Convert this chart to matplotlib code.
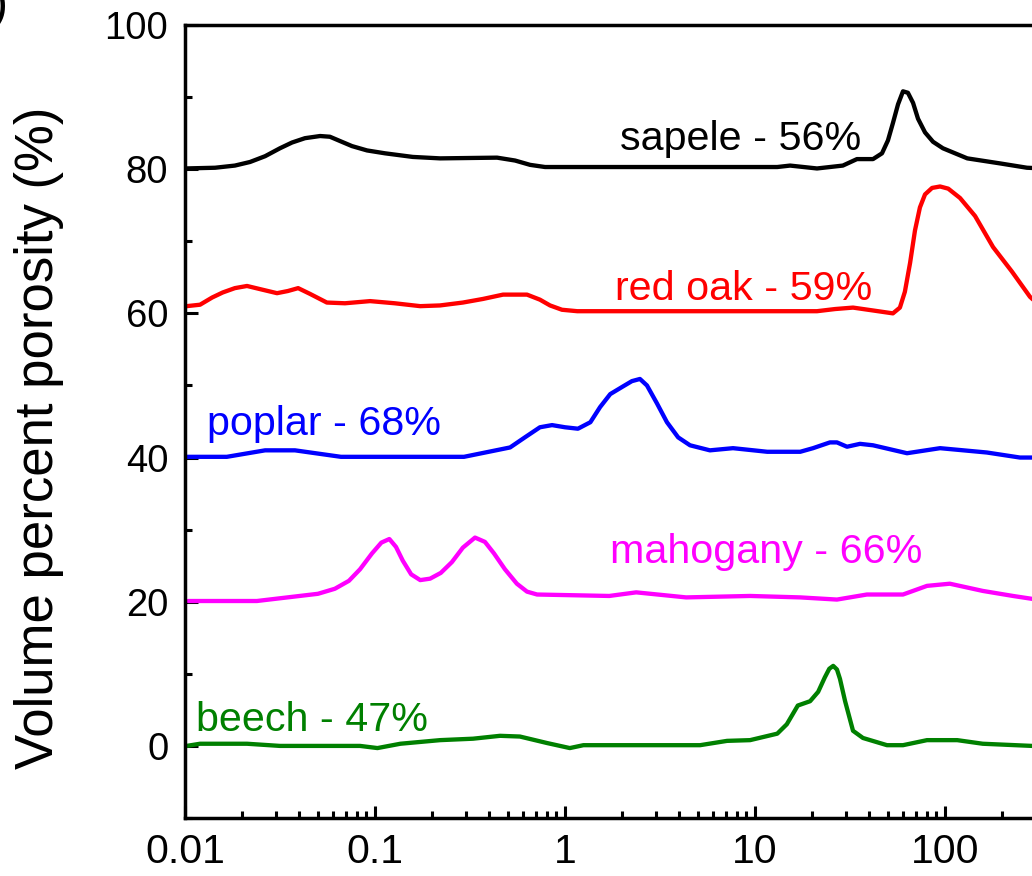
import numpy as np
import matplotlib
matplotlib.use("Agg")
import matplotlib.pyplot as plt
from matplotlib.ticker import LogLocator, FixedLocator, NullFormatter

plt.rcParams["font.family"] = ["Liberation Sans", "DejaVu Sans"]

# pore diameter (um) and volume percent, each curve stacked by its offset
sapele_x = [0.01, 0.0144, 0.0183, 0.0220, 0.0264, 0.0316, 0.0366, 0.0428, 0.0514, 0.0579,
            0.0655, 0.0757, 0.0908, 0.113, 0.158, 0.220, 0.439, 0.546, 0.655, 0.785,
            1.73, 13.1, 15.3, 21.2, 29.0, 34.4, 41.8, 46.6, 50.1, 53.2, 56.6, 60.1,
            63.8, 67.9, 72.1, 78.5, 86.5, 97.5, 131, 195, 270, 400]
sapele_y = [0.1, 0.2, 0.5, 1.0, 1.8, 2.9, 3.7, 4.3, 4.6, 4.5,
            3.9, 3.2, 2.6, 2.2, 1.7, 1.5, 1.6, 1.2, 0.6, 0.3,
            0.3, 0.3, 0.5, 0.1, 0.5, 1.4, 1.4, 2.2, 4.0, 6.4, 9.0, 10.8,
            10.6, 9.2, 7.0, 5.1, 3.8, 2.9, 1.5, 0.8, 0.2, 0.0]

redoak_x = [0.0102, 0.012, 0.0139, 0.0158, 0.0183, 0.0212, 0.0254, 0.0305, 0.0348, 0.0394,
            0.0455, 0.0558, 0.0695, 0.0942, 0.127, 0.173, 0.220, 0.290, 0.370, 0.472,
            0.631, 0.738, 0.834, 0.964, 1.16, 21.2, 26.4, 32.8, 41.8, 53.2, 57.9, 61.5,
            65.5, 69.5, 73.8, 78.5, 85.5, 94.2, 104, 120, 144, 179, 225, 280, 403]
redoak_y = [1.0, 1.2, 2.2, 2.9, 3.5, 3.8, 3.3, 2.8, 3.1, 3.5,
            2.7, 1.5, 1.4, 1.7, 1.4, 1.0, 1.1, 1.5, 2.0, 2.6,
            2.6, 1.9, 1.1, 0.5, 0.3, 0.3, 0.6, 0.8, 0.4, 0.0, 0.8, 3.0,
            7.0, 11.5, 14.7, 16.5, 17.4, 17.6, 17.3, 16.0, 13.5, 9.2, 5.8, 2.3, -1.5]

poplar_x = [0.01, 0.0166, 0.0264, 0.0379, 0.0662, 0.294, 0.514, 0.615, 0.738, 0.855,
            1.0, 1.17, 1.36, 1.53, 1.73, 2.0, 2.25, 2.48, 2.70, 3.05, 3.44, 3.94,
            4.55, 5.79, 7.66, 11.6, 17.3, 20.2, 24.8, 27.0, 30.5, 35.7, 41.8, 63.1,
            94.2, 166, 248, 316]
poplar_y = [0.1, 0.1, 1.0, 1.0, 0.1, 0.1, 1.4, 2.8, 4.2, 4.5,
            4.2, 4.0, 4.9, 7.0, 8.8, 9.8, 10.6, 10.9, 10.0, 7.5, 4.9, 2.8,
            1.7, 1.0, 1.3, 0.8, 0.8, 1.3, 2.1, 2.1, 1.5, 1.9, 1.7, 0.6,
            1.3, 0.7, 0.0, 0.0]

mahogany_x = [0.0104, 0.0239, 0.0501, 0.0615, 0.0729, 0.0834, 0.0964, 0.108, 0.119, 0.129,
              0.140, 0.155, 0.173, 0.195, 0.222, 0.254, 0.290, 0.336, 0.379, 0.423,
              0.483, 0.558, 0.631, 0.713, 1.71, 2.37, 4.34, 9.42, 17.3, 27.0, 38.8,
              60.1, 80.4, 106, 158, 228, 287, 350]
mahogany_y = [0.1, 0.1, 1.1, 1.8, 2.9, 4.5, 6.7, 8.2, 8.7, 7.6,
              5.7, 3.8, 3.0, 3.2, 4.0, 5.5, 7.5, 8.9, 8.3, 6.7,
              4.5, 2.5, 1.4, 1.0, 0.8, 1.3, 0.6, 0.8, 0.6, 0.3, 1.0,
              1.0, 2.2, 2.5, 1.5, 0.8, 0.4, 0.3]

beech_x = [0.0102, 0.012, 0.0212, 0.0316, 0.0834, 0.103, 0.136, 0.220, 0.328, 0.455,
           0.579, 0.804, 1.06, 1.25, 5.14, 7.13, 9.42, 13.1, 14.7, 16.8, 19.5, 21.5,
           23.3, 24.6, 25.8, 27.0, 28.0, 29.8, 32.8, 37.0, 49.5, 60.1, 80.4, 116, 158,
           287, 350]
beech_y = [0.0, 0.3, 0.3, 0.0, 0.0, -0.3, 0.3, 0.8, 1.0, 1.4,
           1.3, 0.4, -0.3, 0.1, 0.1, 0.7, 0.8, 1.7, 3.0, 5.6, 6.2, 7.5,
           9.5, 10.7, 11.1, 10.6, 9.3, 6.2, 2.1, 1.1, 0.1, 0.1, 0.8, 0.8, 0.3,
           0.0, 0.0]

offsets = [80, 60, 40, 20, 0]
colors = ["black", "#ff0000", "#0000ff", "#ff00ff", "#008000"]
labels = ["sapele - 56%", "red oak - 59%", "poplar - 68%", "mahogany - 66%", "beech - 47%"]
# where each label sits: (x, y) in data units, text baseline
label_pos = [(1.95, 82.6), (1.83, 61.8), (0.0131, 43.1), (1.73, 25.4), (0.0114, 2.1)]

series = [(sapele_x, sapele_y), (redoak_x, redoak_y), (poplar_x, poplar_y),
          (mahogany_x, mahogany_y), (beech_x, beech_y)]

fig = plt.figure(figsize=(10.32, 8.76), dpi=100)
# axes run past the right edge of the figure, so the panel is cut there
ax = fig.add_axes([185 / 1032, 1 - 818 / 876, 950 / 1032, 793 / 876])

for (x, y), off, c, lab, (tx, ty) in zip(series, offsets, colors, labels, label_pos):
    ax.plot(x, np.array(y) + off, color=c, lw=3.1, solid_joinstyle="round",
            solid_capstyle="round")
    ax.text(tx, ty, lab, color=c, fontsize=29.7, ha="left", va="baseline")

ax.set_xscale("log")
ax.set_xlim(0.01, 1000)
ax.set_ylim(-10, 100)

ax.xaxis.set_minor_locator(LogLocator(base=10, subs=np.arange(2, 10), numticks=20))
ax.xaxis.set_minor_formatter(NullFormatter())
ax.set_xticks([0.01, 0.1, 1, 10, 100])
ax.set_xticklabels(["0.01", "0.1", "1", "10", "100"])
ax.set_yticks([0, 20, 40, 60, 80, 100])
ax.yaxis.set_minor_locator(FixedLocator([-10, 10, 30, 50, 70, 90]))

ax.tick_params(which="both", direction="in", width=2.2, top=False, right=False)
ax.tick_params(which="major", length=9)
ax.tick_params(which="minor", length=5)
ax.tick_params(axis="x", labelsize=29.5, pad=11)
ax.tick_params(axis="y", labelsize=27.5, pad=12)
for side in ["left", "bottom", "top", "right"]:
    ax.spines[side].set_linewidth(2.5)

ax.set_ylabel("Volume percent porosity (%)", fontsize=38)
ax.yaxis.set_label_coords(-0.127, 0.48)

fig.text(9 / 1032, 1 - 6 / 876, "(b)", fontsize=36, ha="right", va="center")

fig.savefig("out.png", dpi=100)
